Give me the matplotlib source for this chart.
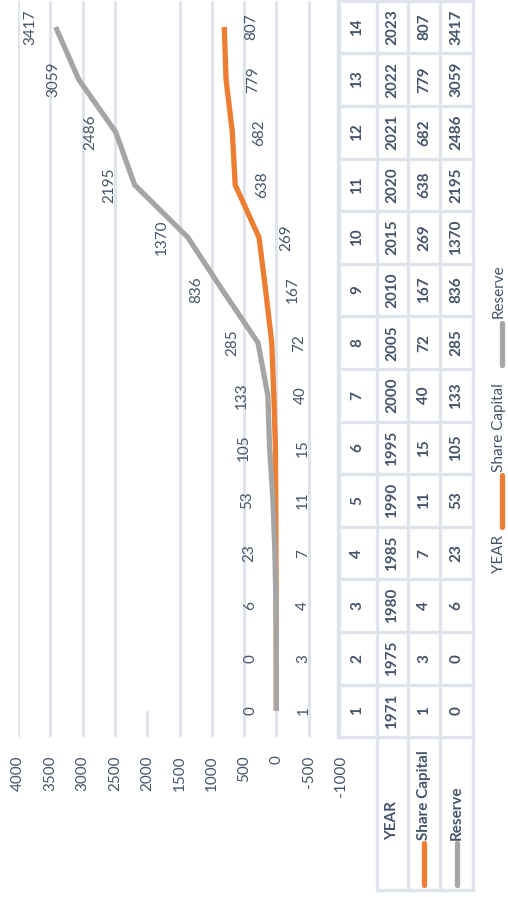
import matplotlib
matplotlib.use("Agg")
import matplotlib.pyplot as plt
from matplotlib.lines import Line2D
from matplotlib.transforms import blended_transform_factory

# ---------------- data ----------------
categories = list(range(1, 15))
years = [1971, 1975, 1980, 1985, 1990, 1995, 2000, 2005, 2010, 2015, 2020, 2021, 2022, 2023]
share_capital = [1, 3, 4, 7, 11, 15, 40, 72, 167, 269, 638, 682, 779, 807]
reserve = [0, 0, 6, 23, 53, 105, 133, 285, 836, 1370, 2195, 2486, 3059, 3417]
value_ticks = [4000, 3500, 3000, 2500, 2000, 1500, 1000, 500, 0, -500, -1000]
row_names = ["YEAR", "Share Capital", "Reserve"]

ORANGE = "#ED7D31"
GRAY = "#A5A5A5"
TXT = "#44546A"
GRID = "#DFE4EA"
FONT = ["Lato", "DejaVu Sans"]

W, H = 508, 897
fig = plt.figure(figsize=(W / 100, H / 100), dpi=100)
fig.patch.set_facecolor("white")


def fx(px):
    return px / W


def fy(py):
    return 1 - py / H


# plot area (rotated chart: values horizontal, categories vertical)
ax_left, ax_right = 18, 341
ax_top, ax_bot = 0.7, 737.3
ax = fig.add_axes([fx(ax_left), fy(ax_bot), (ax_right - ax_left) / W, (ax_bot - ax_top) / H])
ax.set_xlim(4000, -1000)
ax.set_ylim(0.5, 14.5)
for s in ax.spines.values():
    s.set_visible(False)
ax.set_yticks([])
ax.set_xticks(value_ticks)
ax.set_xticklabels([str(v) for v in value_ticks], rotation=90, fontsize=11,
                   color=TXT, family=FONT)
ax.tick_params(axis="x", length=0, pad=13)

for v in value_ticks:
    if v == 2000:
        ax.axvline(v, ymin=0, ymax=0.034, color=GRID, lw=2.2, zorder=0)
    else:
        ax.axvline(v, color=GRID, lw=2.2, zorder=0)

ax.plot(share_capital, categories, color=ORANGE, lw=3.8, solid_capstyle="butt",
        solid_joinstyle="round", zorder=3)
ax.plot(reserve, categories, color=GRAY, lw=3.8, solid_capstyle="butt",
        solid_joinstyle="round", zorder=4)

for c, v in zip(categories, reserve):
    ax.annotate(str(v), (v, c), xytext=(-18.5, 0), textcoords="offset points",
                rotation=90, ha="center", va="center", fontsize=11, color=TXT,
                family=FONT, annotation_clip=False)
for c, v in zip(categories, share_capital):
    ax.annotate(str(v), (v, c), xytext=(19.5, 0), textcoords="offset points",
                rotation=90, ha="center", va="center", fontsize=11, color=TXT,
                family=FONT, annotation_clip=False)

# ---------------- data table ----------------
tr = blended_transform_factory(fig.transFigure, ax.transData)
row_x = [338, 376.5, 408, 440, 473]
LW_T = 2.4


def fline(xs, ys, transform, **kw):
    fig.add_artist(Line2D(xs, ys, transform=transform, **kw))


# row separators (vertical in image) across category span
for x in row_x:
    fline([fx(x), fx(x)], [0.5, 14.5], tr, color=GRID, lw=LW_T, zorder=1)
# column separators
for k in range(15):
    y = k + 0.5
    fline([fx(338), fx(473)], [y, y], tr, color=GRID, lw=LW_T, zorder=1)

# header cells for row names
hdr_top, hdr_bot = 737.3, 890
for x in row_x[1:]:
    fline([fx(x), fx(x)], [fy(hdr_top), fy(hdr_bot)], fig.transFigure, color=GRID, lw=LW_T)
fline([fx(row_x[1]), fx(row_x[-1])], [fy(hdr_bot), fy(hdr_bot)], fig.transFigure,
      color=GRID, lw=LW_T)

cell_cx = [(row_x[i] + row_x[i + 1]) / 2 for i in range(4)]
rows = [categories, years, share_capital, reserve]
for cx, vals in zip(cell_cx, rows):
    for c, v in zip(categories, vals):
        fig.text(fx(cx), c, str(v), transform=tr, rotation=90, ha="center",
                 va="center", fontsize=11, fontweight="bold", color=TXT, family=FONT)

key_colors = [None, ORANGE, GRAY]
for name, cx, kc in zip(row_names, cell_cx[1:], key_colors):
    fig.text(fx(cx), fy(840), name, rotation=90, ha="center", va="bottom",
             fontsize=11, fontweight="bold", color=TXT, family=FONT)
    if kc is not None:
        fline([fx(cx), fx(cx)], [fy(843), fy(885)], fig.transFigure, color=kc,
              lw=3.8, solid_capstyle="round")

# ---------------- legend ----------------
leg_x = 499
fig.text(fx(leg_x), fy(573), row_names[0], rotation=90, ha="center", va="bottom",
         fontsize=11, color=TXT, family=FONT)
fline([fx(502), fx(502)], [fy(527), fy(475)], fig.transFigure, color=ORANGE, lw=3.8,
      solid_capstyle="round")
fig.text(fx(leg_x), fy(472), row_names[1], rotation=90, ha="center", va="bottom",
         fontsize=11, color=TXT, family=FONT)
fline([fx(502), fx(502)], [fy(365), fy(323)], fig.transFigure, color=GRAY, lw=3.8,
      solid_capstyle="round")
fig.text(fx(leg_x), fy(318), row_names[2], rotation=90, ha="center", va="bottom",
         fontsize=11, color=TXT, family=FONT)

fig.savefig("out.png", dpi=100)
